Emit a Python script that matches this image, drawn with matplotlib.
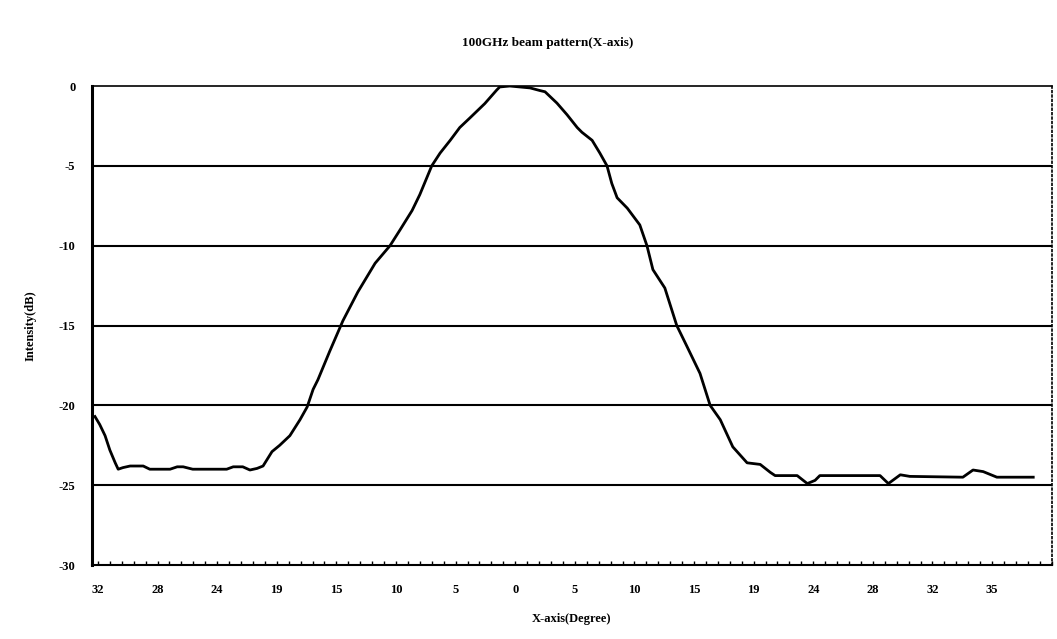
import matplotlib
matplotlib.use("Agg")
import matplotlib.pyplot as plt
from matplotlib.ticker import MultipleLocator

# Category-style x axis: positions in units of tick-label slots
x_pos = [-0.05, 0.03, 0.12, 0.20, 0.29, 0.34, 0.42, 0.54, 0.76, 0.87, 1.21, 1.33, 1.43, 1.59,
         2.16, 2.27, 2.43, 2.55, 2.67, 2.77, 2.92, 3.05, 3.22, 3.39, 3.51, 3.61, 3.69, 3.89,
         4.11, 4.36, 4.65, 4.90, 5.07, 5.27, 5.40, 5.60, 5.74, 5.91, 6.07, 6.24, 6.49, 6.69,
         6.74, 6.91, 7.08, 7.25, 7.42, 7.50, 7.70, 7.87, 8.04, 8.12, 8.29, 8.42, 8.54, 8.62,
         8.71, 8.88, 9.09, 9.21, 9.31, 9.51, 9.71, 9.88, 10.10, 10.27, 10.44, 10.65, 10.89,
         11.11, 11.28, 11.36, 11.73, 11.90, 12.03, 12.11, 13.12, 13.26, 13.46, 13.62, 14.51,
         14.68, 14.85, 15.08, 15.69]
intensity = [-20.7, -21.2, -21.9, -22.8, -23.6, -24.0, -23.9, -23.8, -23.8, -24.0, -24.0, -23.85,
             -23.85, -24.0, -24.0, -23.85, -23.85, -24.05, -23.95, -23.8, -22.9, -22.5, -21.9,
             -20.9, -20.1, -19.0, -18.4, -16.6, -14.7, -12.9, -11.1, -10.0, -9.0, -7.8, -6.8,
             -5.0, -4.2, -3.4, -2.6, -2.0, -1.1, -0.25, -0.06, 0.0, -0.06, -0.12, -0.29, -0.36,
             -1.07, -1.8, -2.6, -2.9, -3.4, -4.2, -5.0, -6.1, -7.0, -7.65, -8.7, -10.0, -11.5,
             -12.65, -15.0, -16.3, -18.0, -20.0, -20.9, -22.6, -23.6, -23.7, -24.2, -24.4, -24.4,
             -24.9, -24.7, -24.4, -24.4, -24.9, -24.35, -24.45, -24.5, -24.05, -24.15, -24.5,
             -24.5]
x_tick_labels = ["32", "28", "24", "19", "15", "10", "5", "0", "5", "10", "15", "19", "24",
                 "28", "32", "35"]
y_ticks = [0, -5, -10, -15, -20, -25, -30]

plt.rcParams['font.family'] = ['Liberation Serif', 'DejaVu Serif']

fig = plt.figure(figsize=(10.57, 6.39), dpi=100)
ax = fig.add_axes([0.087, 0.1158, 0.908, 0.7496])

for yv in y_ticks[1:-1]:
    ax.axhline(yv, color='black', lw=1.5, zorder=1)

ax.plot(x_pos, intensity, color='black', lw=2.0, zorder=3)

ax.set_xlim(-0.1, 16.0)
ax.set_ylim(-30, 0)
ax.set_xticks(range(len(x_tick_labels)))
ax.set_xticklabels(x_tick_labels, fontsize=9, fontweight='bold')
ax.set_yticks(y_ticks)
ax.set_yticklabels([str(v) for v in y_ticks], fontsize=9, fontweight='bold')
ax.xaxis.set_minor_locator(MultipleLocator(0.2))
ax.tick_params(axis='x', which='both', direction='in', length=3, width=1, pad=14)
ax.tick_params(axis='y', which='both', length=0, pad=12)

ax.spines['left'].set_linewidth(2.2)
ax.spines['bottom'].set_linewidth(1.5)
ax.spines['top'].set_linewidth(1.2)
ax.spines['right'].set_linewidth(1.2)
ax.spines['right'].set_linestyle(':')

fig.text(0.518, 0.932, "100GHz beam pattern(X-axis)", ha='center', va='center',
         fontsize=9.5, fontweight='bold')
ax.set_xlabel("X-axis(Degree)", fontsize=9, fontweight='bold', labelpad=12)
ax.set_ylabel("Intensity(dB)", fontsize=9, fontweight='bold', labelpad=16)

fig.savefig("out.png", dpi=100, facecolor='white')
